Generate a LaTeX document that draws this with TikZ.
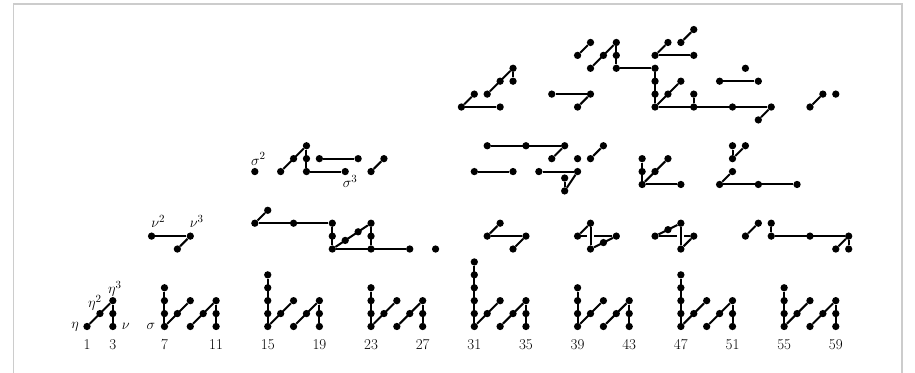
\documentclass[tikz,border=0pt]{standalone}
\begin{document}
\begin{tikzpicture}[x=12.91pt,y=12.91pt,
  dot/.style={circle,fill=black,inner sep=0pt,minimum size=7.3pt},
  ln/.style={line width=2pt},
  over/.style={line width=2pt,preaction={draw=white,line width=7pt}},
  lab/.style={inner sep=0pt,font=\fontsize{15}{18}\selectfont},
  frame/.style={draw=black!20,line width=1.3pt}]
\useasboundingbox (-5.740,-3.602) rectangle (65.136,25.290);
\draw[frame] (-4.71,-3.7) -- (-4.71,24.98) -- (64.13,24.98) -- (64.13,-3.7);

% ---- bottom periodic pattern ----
\node[dot] (p1-0) at (1,0) {};
\node[dot] (p2-1) at (2,1) {};
\foreach \h in {0,1,2} \node[dot] (p3-\h) at (3,\h) {};
\draw[ln] (p1-0) -- (p3-2);
\draw[ln] (p3-0) -- (p3-2);
\foreach \c/\T in {7/3,15/4,23/3,31/5,39/3,47/4,55/3}{
  \pgfmathtruncatemacro\ca{\c+1}
  \pgfmathtruncatemacro\cb{\c+2}
  \pgfmathtruncatemacro\cc{\c+3}
  \pgfmathtruncatemacro\cd{\c+4}
  \foreach \h in {0,...,\T} \node[dot] (p\c-\h) at (\c,\h) {};
  \node[dot] (p\ca-1) at (\ca,1) {};
  \node[dot] (p\cb-2) at (\cb,2) {};
  \node[dot] (p\cb-0) at (\cb,0) {};
  \node[dot] (p\cc-1) at (\cc,1) {};
  \foreach \h in {0,1,2} \node[dot] (p\cd-\h) at (\cd,\h) {};
  \draw[ln] (p\c-0) -- (p\c-\T);
  \draw[ln] (p\c-0) -- (p\cb-2);
  \draw[ln] (p\cb-0) -- (p\cd-2);
  \draw[ln] (p\cd-0) -- (p\cd-2);
}

% ---- other dots ----
\foreach \x/\y in {6/7,9/7,8/6,14/8,15/9,17/8,20/8,20/7,20/6,23/8,23/7,23/6,26/6,28/6,
  32/7,33/8,35/7,34/6,39/7,40/8,40/6,42/7,45/7,47/8,47/6,48/7,52/7,53/8,54/8,54/7,57/7,60/7,59/6,60/6,
  14/12,16/12,17/13,18/14,18/13,18/12,21/12,19/13,22/13,23/12,24/13,32/14,35/14,38/14,37/13,39/13,
  40/13,41/14,31/12,34/12,36/12,39/12,44/11,44/12,44/13,45/12,46/13,47/11,51/14,52/14,51/13,51/12,
  50/11,53/11,56/11,
  30/17,33/17,31/18,32/18,33/19,34/20,34/19,37/18,40/18,39/17,39/21,40/22,40/20,41/21,42/22,42/21,
  42/20,45/20,45/21,46/22,47/22,48/23,48/21,45/17,45/18,45/19,46/18,47/19,48/17,48/18,51/17,54/17,
  53/16,50/19,53/19,52/20,57/17,58/18,59/18}
  \node[dot] (p\x-\y) at (\x,\y) {};
\node[dot] (q21) at (21,6.6667) {};
\node[dot] (q22) at (22,7.3333) {};
\node[dot] (q41) at (41,6.5) {};
\node[dot] (q46) at (46,7.5) {};
\node[dot] (r38a) at (38,11.5) {};
\node[dot] (r38b) at (38,10.5) {};

% ---- row 2 ----
\draw[ln] (p39-7) -- (p42-7);
\draw[ln] (p45-7) -- (p48-7);
\draw[over] (p40-6) -- (p40-8);
\draw[over] (p47-6) -- (p47-8);
\draw[ln] (p6-7) -- (p9-7);
\draw[ln] (p8-6) -- (p9-7);
\draw[ln] (p14-8) -- (p15-9);
\draw[ln] (p14-8) -- (p20-8);
\draw[ln] (p20-6) -- (p20-8);
\draw[ln] (p20-6) -- (p23-8);
\draw[ln] (p23-6) -- (p23-8);
\draw[ln] (p20-6) -- (p26-6);
\draw[ln] (p32-7) -- (p33-8);
\draw[ln] (p32-7) -- (p35-7);
\draw[ln] (p34-6) -- (p35-7);
\draw[ln] (p39-7) -- (p40-8);
\draw[ln] (p40-6) -- (p42-7);
\draw[ln] (p45-7) -- (p47-8);
\draw[ln] (p47-6) -- (p48-7);
\draw[ln] (p52-7) -- (p53-8);
\draw[ln] (p54-7) -- (p54-8);
\draw[ln] (p54-7) -- (p60-7);
\draw[ln] (p59-6) -- (p60-7);
\draw[ln] (p60-6) -- (p60-7);

% ---- row 3 ----
\draw[ln] (p16-12) -- (p18-14);
\draw[ln] (p18-12) -- (p18-14);
\draw[ln] (p18-12) -- (p21-12);
\draw[ln] (p19-13) -- (p22-13);
\draw[ln] (p23-12) -- (p24-13);
\draw[ln] (p32-14) -- (p38-14);
\draw[ln] (p37-13) -- (p38-14);
\draw[ln] (p40-13) -- (p41-14);
\draw[ln] (p31-12) -- (p34-12);
\draw[ln] (p36-12) -- (p39-12);
\draw[ln] (r38b) -- (r38a);
\draw[ln] (r38b) -- (p39-12);
\draw[ln] (p44-11) -- (p44-13);
\draw[ln] (p44-11) -- (p46-13);
\draw[ln] (p44-11) -- (p47-11);
\draw[ln] (p51-13) -- (p51-14);
\draw[ln] (p51-13) -- (p52-14);
\draw[ln] (p50-11) -- (p51-12);
\draw[ln] (p50-11) -- (p56-11);

% ---- top row ----
\draw[ln] (p30-17) -- (p33-17);
\draw[ln] (p30-17) -- (p31-18);
\draw[ln] (p32-18) -- (p34-20);
\draw[ln] (p34-19) -- (p34-20);
\draw[ln] (p37-18) -- (p40-18);
\draw[ln] (p39-17) -- (p40-18);
\draw[ln] (p39-21) -- (p40-22);
\draw[ln] (p40-20) -- (p42-22);
\draw[ln] (p42-20) -- (p42-22);
\draw[ln] (p42-20) -- (p45-20);
\draw[ln] (p45-21) -- (p46-22);
\draw[ln] (p47-22) -- (p48-23);
\draw[ln] (p45-21) -- (p48-21);
\draw[ln] (p45-17) -- (p45-20);
\draw[ln] (p45-17) -- (p47-19);
\draw[ln] (p48-17) -- (p48-18);
\draw[ln] (p45-17) -- (p54-17);
\draw[ln] (p53-16) -- (p54-17);
\draw[ln] (p50-19) -- (p53-19);
\draw[ln] (p57-17) -- (p58-18);

% ---- labels ----
\node[lab] (leta)  at ([shift={(-12pt,0pt)}]p1-0) {$\eta$};
\node[lab] (leta2) at ([shift={(-5pt,10.5pt)}]p2-1) {$\eta^2$};
\node[lab] (leta3) at ([shift={(2pt,12pt)}]p3-2) {$\eta^3$};
\node[lab] (lnu)   at ([shift={(13pt,0pt)}]p3-0) {$\nu$};
\node[lab] (lsig)  at ([shift={(-13.5pt,0pt)}]p7-0) {$\sigma$};
\node[lab] (lnu2)  at ([shift={(6.7pt,14.4pt)}]p6-7) {$\nu^2$};
\node[lab] (lnu3)  at ([shift={(6.4pt,14.4pt)}]p9-7) {$\nu^3$};
\node[lab] (lsig2) at ([shift={(3.5pt,12.6pt)}]p14-12) {$\sigma^2$};
\node[lab] (lsig3) at ([shift={(5pt,-10pt)}]p21-12) {$\sigma^3$};
\foreach \n in {1,3,7,11,15,19,23,27,31,35,39,43,47,51,55,59}
  \node[lab] (n\n) at (\n,-1.38) {\n};
\end{tikzpicture}
\end{document}
